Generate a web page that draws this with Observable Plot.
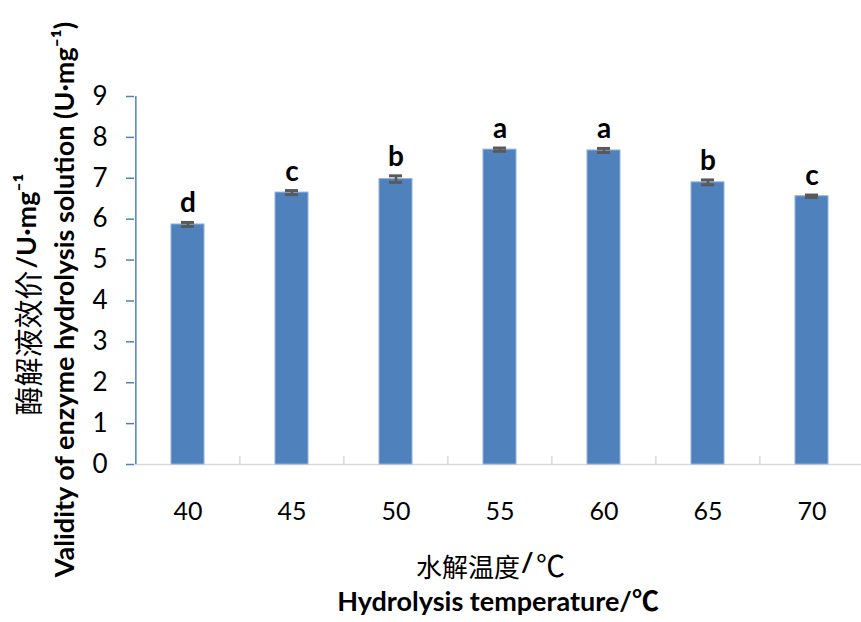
<!DOCTYPE html>
<html>
<head>
<meta charset="utf-8">
<script src="https://cdn.jsdelivr.net/npm/d3@7"></script>
<script src="https://cdn.jsdelivr.net/npm/@observablehq/plot@0.6"></script>
<style>
  html, body { margin: 0; padding: 0; background: #fff; }
  #chart svg { display: block; }
</style>
</head>
<body>
<div id="chart"></div>
<script>
const temperatures = [40, 45, 50, 55, 60, 65, 70];
const activity = [5.87, 6.65, 6.98, 7.70, 7.68, 6.90, 6.56];
const errors = [0.05, 0.05, 0.08, 0.04, 0.05, 0.06, 0.03];
const letters = ["d", "c", "b", "a", "a", "b", "c"];
const yTicks = [0, 1, 2, 3, 4, 5, 6, 7, 8, 9];
const xTitleZh = "水解温度";
const xTitleSlash = "/";
const xTitleUnit = "℃";
const xTitleEn = "Hydrolysis temperature/℃";
const yTitleZh = "酶解液效价";
const yTitleUnit = "/U·mg⁻¹";
const yTitleEn = "Validity of enzyme hydrolysis solution (U·mg⁻¹)";

const data = temperatures.map((t, i) => ({
  t, v: activity[i], lo: activity[i] - errors[i], hi: activity[i] + errors[i], letter: letters[i]
}));
const boundaries = temperatures.slice(1);

const blue = "#4f81bd";
const latin = "Lato, 'Noto Sans CJK SC', sans-serif";
const cjk = "'Noto Sans CJK SC', sans-serif";
const step = 104.3;

const chart = Plot.plot({
  width: 861,
  height: 622,
  marginLeft: 134,
  marginRight: 0,
  marginTop: 96,
  marginBottom: 158,
  style: { fontFamily: latin, background: "white", color: "black" },
  x: { type: "band", domain: temperatures, range: [134, 134 + 7 * step], paddingInner: 0.684, paddingOuter: 0.342, align: 0.5 },
  y: { domain: [0, 9] },
  marks: [
    Plot.ruleY([0], { stroke: "#d9d9d9", strokeWidth: 1.5 }),
    Plot.ruleX(boundaries, { x: d => d, dx: -step / 2, insetTop: 360, stroke: "#d9d9d9", strokeWidth: 1.5 }),
    Plot.barY(data, { x: "t", y: "v", fill: blue, stroke: "#8fb0da", strokeWidth: 1 }),
    Plot.ruleX(data, { x: "t", y1: "lo", y2: "hi", stroke: "#595959", strokeWidth: 2.5 }),
    Plot.tickY(data, { x: "t", y: "lo", stroke: "#595959", strokeWidth: 3, insetLeft: 10, insetRight: 10 }),
    Plot.tickY(data, { x: "t", y: "hi", stroke: "#595959", strokeWidth: 3, insetLeft: 10, insetRight: 10 }),
    Plot.text(data, { x: "t", y: "hi", text: "letter", dy: -19, fontSize: 28, fontWeight: "bold", fill: "black" }),
    Plot.ruleX([temperatures[0]], { x: d => d, dx: -step / 2, y1: 0, y2: 9, stroke: blue, strokeWidth: 1.5 }),
    Plot.axisY({ ticks: yTicks, tickSize: 8, tickPadding: 19, stroke: blue, strokeWidth: 1.5, fill: "black", fontSize: 26, label: null, tickFormat: d => String(d) }),
    Plot.axisX({ tickSize: 0, tickPadding: 38, fontSize: 25, fill: "black", label: null }),
    Plot.text([xTitleZh], { text: d => d, frameAnchor: "bottom", textAnchor: "end", dx: 22, dy: 112, fontSize: 26, fill: "black", fontFamily: cjk }),
    Plot.text([xTitleSlash], { text: d => d, frameAnchor: "bottom", textAnchor: "start", dx: 23, dy: 107, fontSize: 27, fontWeight: "bold", fill: "black" }),
    Plot.text([xTitleUnit], { text: d => d, frameAnchor: "bottom", textAnchor: "start", dx: 38, dy: 112, fontSize: 29, fill: "black", fontFamily: cjk }),
    Plot.text([xTitleEn], { text: d => d, frameAnchor: "bottom", dy: 146, fontSize: 27, fontWeight: "bold", fill: "black" }),
    Plot.text([yTitleZh], { text: d => d, frameAnchor: "left", rotate: -90, textAnchor: "end", dx: -104, dy: -10, fontSize: 29, fill: "black", fontFamily: cjk }),
    Plot.text([yTitleUnit], { text: d => d, frameAnchor: "left", rotate: -90, textAnchor: "start", dx: -107, dy: -12, fontSize: 27, fontWeight: "bold", fill: "black" }),
    Plot.text([yTitleEn], { text: d => d, frameAnchor: "left", rotate: -90, textAnchor: "middle", dx: -69, dy: 19, fontSize: 27, fontWeight: "bold", fill: "black" })
  ]
});
document.getElementById("chart").appendChild(chart);
</script>
</body>
</html>
